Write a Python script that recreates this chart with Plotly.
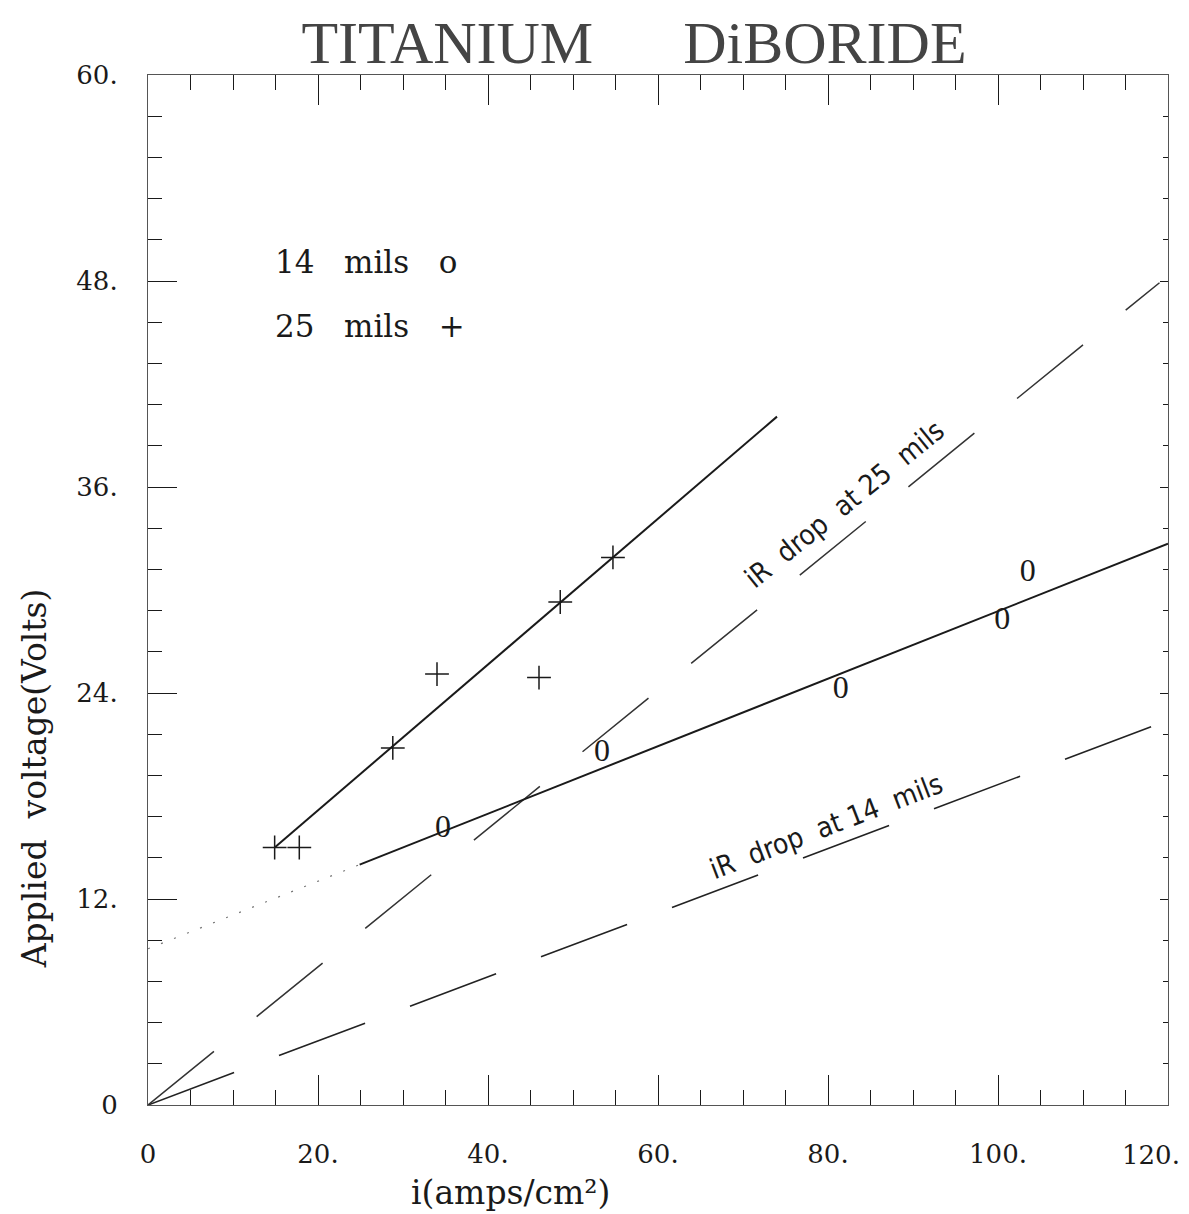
import plotly.graph_objects as go

# Measured points: current density (A/cm^2) vs applied voltage (V)
i_14 = [34.7, 53.4, 81.5, 100.5, 103.5]
v_14 = [16.1, 20.5, 24.2, 28.2, 31.0]
i_25 = [14.9, 17.8, 28.8, 34.0, 46.0, 48.5, 54.7]
v_25 = [15.0, 15.0, 20.8, 25.1, 24.9, 29.3, 31.9]

# Straight-line fits through each data set (end points)
fit14_i = [24.9, 120.0]
fit14_v = [14.0, 32.7]
fit14_ext_i = [0.0, 24.9]
fit14_ext_v = [9.1, 14.0]
fit25_i = [14.9, 74.0]
fit25_v = [15.0, 40.1]

# Ohmic (iR) drop through each thickness
ir14_i = [0.0, 120.0]
ir14_v = [0.0, 22.4]
ir25_i = [0.0, 119.0]
ir25_v = [0.0, 47.9]

NBSP = "\u00a0"
x_tick_vals = [0, 20, 40, 60, 80, 100, 120]
x_tick_text = ["0", "20.", "40.", "60.", "80.", "100.", "120."]
y_tick_vals = [0, 12, 24, 36, 48, 60]
y_tick_text = ["0", "12.", "24.", "36.", "48.", "60."]

INK = "#1a1a1a"
SERIF = "DejaVu Serif"

fig = go.Figure()

# iR drop lines
fig.add_trace(go.Scatter(x=ir14_i, y=ir14_v, mode="lines",
                         line=dict(color="#222", width=1.6, dash="92px,48px"),
                         showlegend=False, hoverinfo="skip"))
fig.add_trace(go.Scatter(x=ir25_i, y=ir25_v, mode="lines",
                         line=dict(color="#333", width=1.5, dash="85px,55px"),
                         showlegend=False, hoverinfo="skip"))

# fitted lines
fig.add_trace(go.Scatter(x=fit14_ext_i, y=fit14_ext_v, mode="lines",
                         line=dict(color="#777", width=1.2, dash="2px,12px"),
                         showlegend=False, hoverinfo="skip"))
fig.add_trace(go.Scatter(x=fit14_i, y=fit14_v, mode="lines",
                         line=dict(color=INK, width=2),
                         showlegend=False, hoverinfo="skip"))
fig.add_trace(go.Scatter(x=fit25_i, y=fit25_v, mode="lines",
                         line=dict(color=INK, width=2),
                         showlegend=False, hoverinfo="skip"))

# data points
fig.add_trace(go.Scatter(x=i_25, y=v_25, mode="markers",
                         marker=dict(symbol="cross-thin", size=17,
                                     line=dict(color=INK, width=1.5)),
                         showlegend=False, hoverinfo="skip"))
fig.add_trace(go.Scatter(x=i_14, y=v_14, mode="text", text=["0"] * len(i_14),
                         textposition="middle center",
                         textfont=dict(family="Liberation Sans Narrow", size=32, color=INK),
                         showlegend=False, hoverinfo="skip"))

# carrier for the top/right tick axes
fig.add_trace(go.Scatter(x=[], y=[], xaxis="x2", yaxis="y2", mode="markers",
                         showlegend=False, hoverinfo="skip"))

label_font = dict(family="DejaVu Sans Condensed", size=28, color=INK)
sp2 = NBSP * 2
fig.add_annotation(x=81.9, y=35.0, text=f"iR{sp2}drop{sp2}at{NBSP}25{sp2}mils",
                   textangle=-39, showarrow=False, font=label_font)
fig.add_annotation(x=79.8, y=16.2, text=f"iR{sp2}drop{sp2}at{NBSP}14{sp2}mils",
                   textangle=-21, showarrow=False, font=label_font)

key_font = dict(family=SERIF, size=31, color=INK)
sp3 = NBSP * 3
fig.add_annotation(x=14.7, y=49.1, xanchor="left", text=f"14{sp3}mils{sp3}o",
                   showarrow=False, font=key_font)
fig.add_annotation(x=14.7, y=45.4, xanchor="left", text=f"25{sp3}mils{sp3}+",
                   showarrow=False, font=key_font)

tick_font = dict(family=SERIF, size=26, color=INK)

# the last x tick label sits inside the page edge, right-aligned to its tick
fig.add_annotation(x=x_tick_vals[-1], y=0, xanchor="right", yanchor="middle",
                   xshift=14, yshift=-50, text=x_tick_text[-1], showarrow=False,
                   font=tick_font)
x_axis_text = x_tick_text[:-1] + [""]

# axis titles
fig.add_annotation(xref="paper", yref="paper", x=0.355, y=-0.0854,
                   xanchor="center", yanchor="middle",
                   text="i(amps/cm\u00b2)", showarrow=False,
                   font=dict(family=SERIF, size=33, color=INK))
fig.add_annotation(xref="paper", yref="paper", x=-0.111, y=0.317,
                   xanchor="center", yanchor="middle",
                   text=f"Applied{sp2}voltage(Volts)", textangle=-90, showarrow=False,
                   font=dict(family=SERIF, size=33, color=INK))

line_col = "#555"

fig.update_layout(
    width=1189, height=1214,
    margin=dict(l=148, r=21, t=75, b=109, autoexpand=False),
    paper_bgcolor="white", plot_bgcolor="white",
    title=dict(text=f"TITANIUM{NBSP * 6}DiBORIDE", x=634 / 1189, y=1 - 42 / 1214,
               xanchor="center", yanchor="middle", automargin=False,
               font=dict(family="Liberation Serif", size=60, color="#444")),
    xaxis=dict(range=[0, 120], tickvals=x_tick_vals, ticktext=x_axis_text,
               ticks="inside", ticklen=30, tickwidth=1.2, tickcolor=INK,
               minor=dict(dtick=5, tick0=0, ticks="inside", ticklen=15,
                          tickwidth=1.2, tickcolor=INK, showgrid=False),
               showgrid=False, zeroline=False, showline=True, mirror=True,
               linecolor=line_col, linewidth=1.2, tickfont=tick_font,
               ticklabelstandoff=26, automargin=False),
    yaxis=dict(range=[0, 60], tickvals=y_tick_vals, ticktext=y_tick_text,
               ticks="inside", ticklen=29, tickwidth=1.2, tickcolor=INK,
               minor=dict(dtick=2.4, tick0=0, ticks="inside", ticklen=14,
                          tickwidth=1.2, tickcolor=INK, showgrid=False),
               showgrid=False, zeroline=False, showline=True, mirror=True,
               linecolor=line_col, linewidth=1.2, tickfont=tick_font,
               ticklabelstandoff=24, ticklabeloverflow="allow", automargin=False),
    xaxis2=dict(range=[0, 120], overlaying="x", side="top", anchor="y",
                tick0=0, dtick=20, ticks="inside", ticklen=30, tickwidth=1.2,
                tickcolor=INK, showticklabels=False, showgrid=False,
                zeroline=False, showline=False, automargin=False,
                minor=dict(dtick=5, tick0=0, ticks="inside", ticklen=15,
                           tickwidth=1.2, tickcolor=INK, showgrid=False)),
    yaxis2=dict(range=[0, 60], overlaying="y", side="right", anchor="x",
                tick0=0, dtick=12, ticks="inside", ticklen=8, tickwidth=1.2,
                tickcolor=INK, showticklabels=False, showgrid=False,
                zeroline=False, showline=False, automargin=False,
                minor=dict(dtick=2.4, tick0=0, ticks="inside", ticklen=5,
                           tickwidth=1.2, tickcolor=INK, showgrid=False)),
)

fig.write_html("out.html")
